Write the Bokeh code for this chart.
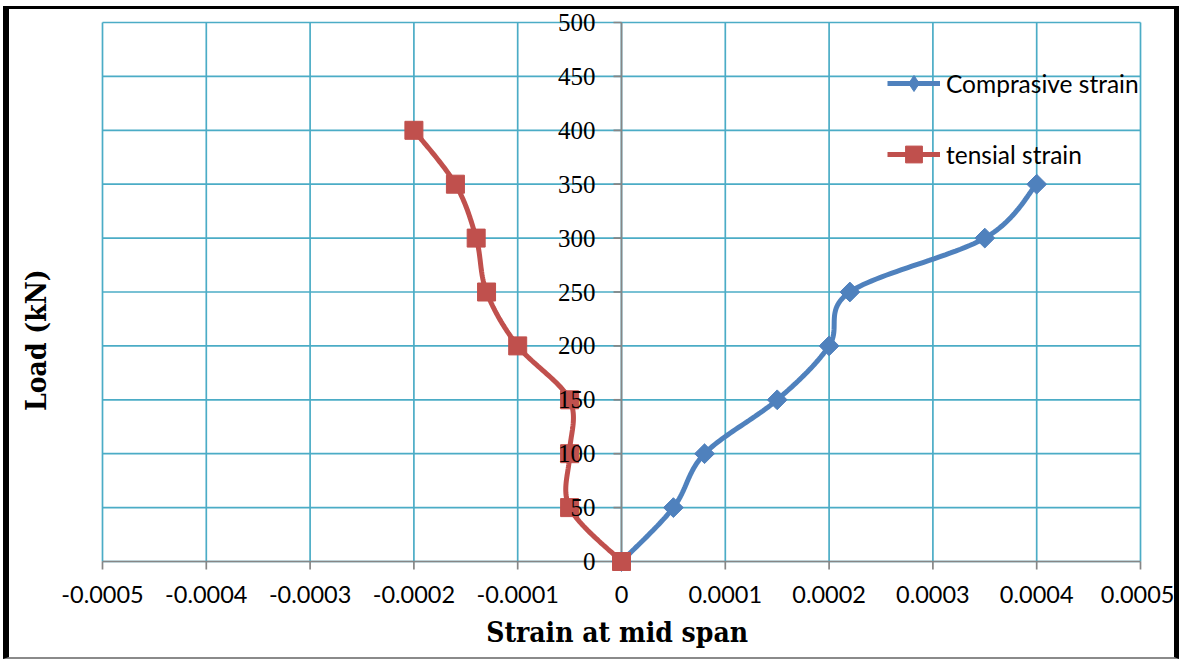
import numpy as np
from bokeh.plotting import figure
from bokeh.models import FixedTicker, Legend, LegendItem, LabelSet, ColumnDataSource
from bokeh.embed import file_html
from bokeh.resources import INLINE

# Load steps (kN) and measured strains at mid span
comp_load = [0, 50, 100, 150, 200, 250, 300, 350]
comp_strain = [0, 0.00005, 0.00008, 0.00015, 0.0002, 0.00022, 0.00035, 0.0004]
tens_load = [0, 50, 100, 150, 200, 250, 300, 350, 400]
tens_strain = [0, -0.00005, -0.00005, -0.00005, -0.0001, -0.00013, -0.00014, -0.00016, -0.0002]

x_ticks = [-0.0005, -0.0004, -0.0003, -0.0002, -0.0001, 0, 0.0001, 0.0002, 0.0003, 0.0004, 0.0005]
x_tick_labels = ["-0.0005", "-0.0004", "-0.0003", "-0.0002", "-0.0001", "0",
                 "0.0001", "0.0002", "0.0003", "0.0004", "0.0005"]
y_ticks = [0, 50, 100, 150, 200, 250, 300, 350, 400, 450, 500]
y_tick_labels = ["0", "50", "100", "150", "200", "250", "300", "350", "400", "450", "500"]

BLUE = "#4f81bd"
RED = "#c0504d"
GRID = "#4bacc6"
AXIS = "#868686"
TITLE_FONT = "DejaVu Serif Condensed"
NBSP = "\u00a0"

# pixel size of the 0.001 x 500 kN area, plus a small pad so edge labels are not cut
AREA_W, AREA_H = 1038, 539
PAD_X, PAD_Y = 2, 12
ux = (x_ticks[-1] - x_ticks[0]) / AREA_W
uy = (y_ticks[-1] - y_ticks[0]) / AREA_H


def smooth(xs, ys, steps=30):
    """Bezier smoothing in screen-proportional space (tension 1/6)."""
    P = np.column_stack([np.asarray(xs, float) / ux, np.asarray(ys, float) / uy])
    n = len(P)
    out = [P[0]]
    t = np.linspace(0, 1, steps)[1:][:, None]
    for i in range(n - 1):
        p0 = P[i - 1] if i > 0 else P[i]
        p1, p2 = P[i], P[i + 1]
        p3 = P[i + 2] if i + 2 < n else P[i + 1]
        c1 = p1 + (p2 - p0) / 6.0
        c2 = p2 - (p3 - p1) / 6.0
        seg = (1 - t) ** 3 * p1 + 3 * (1 - t) ** 2 * t * c1 + 3 * (1 - t) * t ** 2 * c2 + t ** 3 * p2
        out.extend(seg)
    out = np.array(out)
    return out[:, 0] * ux, out[:, 1] * uy


p = figure(width=1176, height=653,
           x_range=(x_ticks[0] - PAD_X * ux, x_ticks[-1] + PAD_X * ux),
           y_range=(y_ticks[0] - PAD_Y * uy, y_ticks[-1] + PAD_Y * uy),
           output_backend="svg", toolbar_location=None,
           min_border_left=91, min_border_right=43, min_border_top=1, min_border_bottom=89)
p.styles = {"margin-left": "3px", "margin-top": "6px",
            "border-left": "6px solid black", "border-top": "3px solid black",
            "border-right": "5px solid black", "border-bottom": "2px solid #8a8a8a"}
p.outline_line_color = None
p.background_fill_color = "white"
p.border_fill_color = "white"
p.grid.visible = False

nx, ny = len(x_ticks), len(y_ticks)
# grid lines, limited to the 0..500 kN / +-0.0005 area
p.segment(x0=x_ticks, y0=[y_ticks[0]] * nx, x1=x_ticks, y1=[y_ticks[-1]] * nx,
          line_color=GRID, line_width=1.7)
p.segment(x0=[x_ticks[0]] * ny, y0=y_ticks, x1=[x_ticks[-1]] * ny, y1=y_ticks,
          line_color=GRID, line_width=1.7)

# axis lines and tick marks crossing at the origin
p.segment(x0=[x_ticks[0]], y0=[0], x1=[x_ticks[-1]], y1=[0], line_color=AXIS, line_width=1.7)
p.segment(x0=[0], y0=[y_ticks[0]], x1=[0], y1=[y_ticks[-1]], line_color=AXIS, line_width=1.7)
p.ray(x=x_ticks, y=[0] * nx, length=8, angle=-np.pi / 2, length_units="screen",
      line_color=AXIS, line_width=1.7)
p.ray(x=[0] * ny, y=y_ticks, length=8, angle=np.pi, length_units="screen",
      line_color=AXIS, line_width=1.7)

# bottom axis: tick labels and title only
xa = p.xaxis[0]
xa.ticker = FixedTicker(ticks=x_ticks)
xa.major_label_overrides = {t: l for t, l in zip(x_ticks, x_tick_labels)}
xa.axis_line_color = None
xa.major_tick_line_color = None
xa.major_tick_out = 0
xa.major_tick_in = 0
xa.minor_tick_line_color = None
xa.major_label_text_font = "Lato"
xa.major_label_text_font_size = "23.5px"
xa.major_label_text_color = "black"
xa.major_label_standoff = 12
xa.axis_label = "Strain at mid span" + NBSP
xa.axis_label_text_font = TITLE_FONT
xa.axis_label_text_font_style = "bold"
xa.axis_label_text_font_size = "28px"
xa.axis_label_text_color = "black"
xa.axis_label_standoff = 10

# left axis only carries the title
ya = p.yaxis[0]
ya.ticker = FixedTicker(ticks=[])
ya.axis_line_color = None
ya.major_tick_line_color = None
ya.minor_tick_line_color = None
ya.major_label_standoff = 0
ya.major_tick_out = 0
ya.axis_label = "Load (kN)" + NBSP * 11
ya.axis_label_text_font = TITLE_FONT
ya.axis_label_text_font_style = "bold"
ya.axis_label_text_font_size = "28px"
ya.axis_label_text_color = "black"
ya.axis_label_standoff = 48

ytick_src = ColumnDataSource(dict(x=[0] * ny, y=y_ticks, text=y_tick_labels))
p.add_layout(LabelSet(x="x", y="y", text="text", source=ytick_src, x_offset=-26,
                      text_align="right", text_baseline="middle", level="glyph",
                      text_font="Lato", text_font_size="25px", text_color="black"))

# series
cx, cy = smooth(comp_strain, comp_load)
tx, ty = smooth(tens_strain, tens_load)
c_line = p.line(cx, cy, line_color=BLUE, line_width=5)
c_pts = p.scatter(comp_strain, comp_load, marker="square", angle=np.pi / 4, size=14,
                  fill_color=BLUE, line_color=BLUE)
t_line = p.line(tx, ty, line_color=RED, line_width=5)
t_pts = p.scatter(tens_strain, tens_load, marker="square", size=18,
                  fill_color=RED, line_color=RED)
# legend-only diamond (no visible point)
c_key = p.scatter([np.nan], [np.nan], marker="diamond", fill_color=BLUE, line_color=BLUE)

common = dict(orientation="vertical", glyph_width=53, label_standoff=6, padding=0, margin=0,
              border_line_color=None, background_fill_alpha=0,
              label_text_font="Lato", label_text_font_size="24.5px", label_text_color="black",
              label_text_baseline="middle")
legend_c = Legend(items=[LegendItem(label="Comprasive strain", renderers=[c_line, c_key])],
                  location=(787, 470), glyph_height=40, label_height=40, **common)
legend_t = Legend(items=[LegendItem(label="tensial strain", renderers=[t_line, t_pts])],
                  location=(787, 398), glyph_height=42, label_height=42, **common)
p.add_layout(legend_c, "center")
p.add_layout(legend_t, "center")

open("out.html", "w").write(file_html(p, INLINE))
